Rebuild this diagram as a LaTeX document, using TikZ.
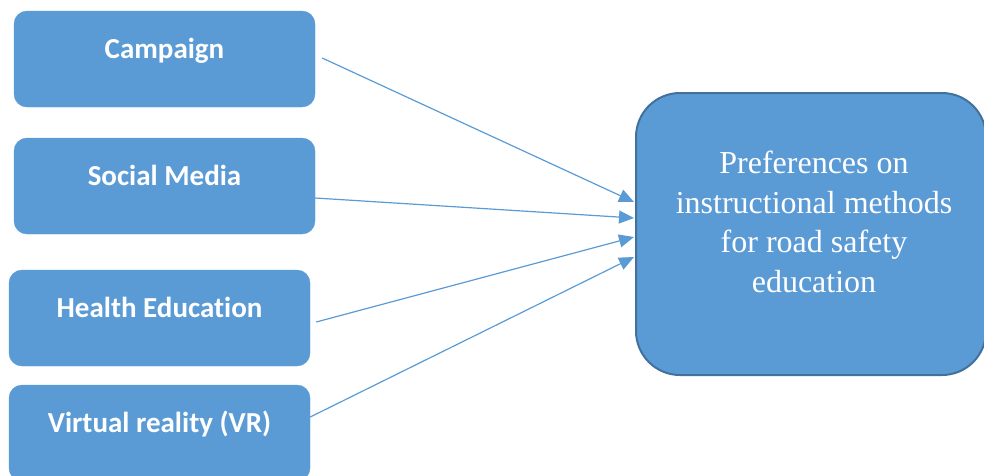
\documentclass[tikz,border=0pt]{standalone}
\usepackage{fontspec}
\newfontfamily\carlito[Ligatures=NoCommon]{Carlito}
\newfontfamily\lserif{Liberation Serif}
\usetikzlibrary{arrows.meta}
\definecolor{boxblue}{HTML}{5B9BD5}
\definecolor{edgeblue}{HTML}{41719C}
\tikzset{
  smallbox/.style={fill=boxblue, draw=boxblue, rounded corners=13pt, minimum width=301pt, minimum height=96pt,
    inner sep=0pt, text height=46pt, text depth=48pt, text=white, font=\carlito\bfseries\fontsize{29}{34}\selectfont},
  bigbox/.style={fill=boxblue, draw=edgeblue, line width=2pt, rounded corners=44pt, minimum width=350pt, minimum height=282pt, inner sep=0pt},
  bigtext/.style={text=white, align=center, font=\lserif\fontsize{32}{39.5}\selectfont},
  conn/.style={draw=boxblue, line width=1.2pt, -{Triangle[length=15pt,width=13pt]}}
}
\begin{document}
\begin{tikzpicture}[x=1pt,y=-1pt]
\useasboundingbox (0,0) rectangle (984,475);
\node[smallbox] (b1) at (164.5,59) {Campaign};
\node[smallbox] (b2) at (164.5,186) {Social Media};
\node[smallbox] (b3) at (159.5,318) {Health Education};
\node[smallbox] (b4) at (159.5,433) {Virtual reality (VR)};
\node[bigbox] (P) at (811,234) {};
\node[bigtext] (Pt) at (814,222) {Preferences on\\instructional methods\\for road safety\\education};
\draw[conn] ([xshift=7pt,yshift=1pt]b1.east) -- ([yshift=32pt,xshift=-1pt]P.west);
\draw[conn] ([yshift=-12pt]b2.east) -- ([yshift=16pt,xshift=-1pt]P.west);
\draw[conn] ([xshift=6pt,yshift=-4pt]b3.east) -- ([yshift=-3pt,xshift=-1pt]P.west);
\draw[conn] ([yshift=16pt]b4.east) -- ([yshift=-23pt,xshift=-1pt]P.west);
\end{tikzpicture}
\end{document}
